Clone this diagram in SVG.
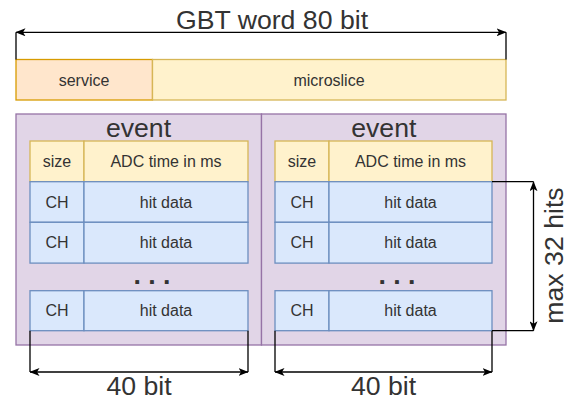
<svg xmlns="http://www.w3.org/2000/svg" width="576" height="400" viewBox="0 0 576 400">
  <style>
    text { font-family: "Liberation Sans", Arial, sans-serif; fill: #333333; }
    .big { font-size: 26.67px; text-anchor: middle; }
    .small { font-size: 16px; text-anchor: middle; }
    .dots { font-size: 26.67px; font-weight: bold; text-anchor: middle; }
    .service { fill: #ffe6cc; stroke: #d79b00; stroke-width: 1.3; }
    .yellow { fill: #fff2cc; stroke: #d6b656; stroke-width: 1.3; }
    .event { fill: #e1d5e7; stroke: #9673a6; stroke-width: 1.3; }
    .hit { fill: #dae8fc; stroke: #6c8ebf; stroke-width: 1.3; }
    .line { fill: none; stroke: #000000; stroke-width: 1.3; }
  </style>
  <defs>
    <marker id="arrow" viewBox="0 0 10 8" refX="9.5" refY="4" markerWidth="10" markerHeight="8" markerUnits="userSpaceOnUse" orient="auto-start-reverse">
      <path d="M0,0 L10,4 L0,8 L2.5,4 Z" fill="#000000"/>
    </marker>
  </defs>

  <!-- GBT word -->
  <g id="gbt-title">
    <text class="big" x="272" y="28.5">GBT word 80 bit</text>
  </g>
  <g id="service">
    <rect class="service" x="16" y="59.5" width="136.5" height="40.5"/>
    <text class="small" x="84" y="85.5">service</text>
  </g>
  <g id="microslice">
    <rect class="yellow" x="152.5" y="59.5" width="353.5" height="40.5"/>
    <text class="small" x="329" y="85.5">microslice</text>
  </g>

  <!-- left event -->
  <g id="event-left">
    <rect class="event" x="16" y="114" width="245.5" height="231"/>
    <text class="big" x="138.5" y="136.7">event</text>
    <rect class="yellow" x="30" y="141" width="54" height="40.7"/>
    <text class="small" x="57" y="167">size</text>
    <rect class="yellow" x="84" y="141" width="164" height="40.7"/>
    <text class="small" x="166" y="167">ADC time in ms</text>
    <rect class="hit" x="30" y="181.7" width="54" height="40.6"/>
    <text class="small" x="57" y="207.5">CH</text>
    <rect class="hit" x="84" y="181.7" width="164" height="40.6"/>
    <text class="small" x="166" y="207.5">hit data</text>
    <rect class="hit" x="30" y="222.3" width="54" height="40.8"/>
    <text class="small" x="57" y="248.2">CH</text>
    <rect class="hit" x="84" y="222.3" width="164" height="40.8"/>
    <text class="small" x="166" y="248.2">hit data</text>
    <text class="dots" x="152" y="283.5">. . .</text>
    <rect class="hit" x="30" y="290.7" width="54" height="40"/>
    <text class="small" x="57" y="316.3">CH</text>
    <rect class="hit" x="84" y="290.7" width="164" height="40"/>
    <text class="small" x="166" y="316.3">hit data</text>
  </g>

  <!-- right event -->
  <g id="event-right">
    <rect class="event" x="261.5" y="114" width="244.5" height="231"/>
    <text class="big" x="383.8" y="136.7">event</text>
    <rect class="yellow" x="275" y="141" width="54" height="40.7"/>
    <text class="small" x="302" y="167">size</text>
    <rect class="yellow" x="329" y="141" width="163" height="40.7"/>
    <text class="small" x="410.5" y="167">ADC time in ms</text>
    <rect class="hit" x="275" y="181.7" width="54" height="40.6"/>
    <text class="small" x="302" y="207.5">CH</text>
    <rect class="hit" x="329" y="181.7" width="163" height="40.6"/>
    <text class="small" x="410.5" y="207.5">hit data</text>
    <rect class="hit" x="275" y="222.3" width="54" height="40.8"/>
    <text class="small" x="302" y="248.2">CH</text>
    <rect class="hit" x="329" y="222.3" width="163" height="40.8"/>
    <text class="small" x="410.5" y="248.2">hit data</text>
    <text class="dots" x="397" y="283.5">. . .</text>
    <rect class="hit" x="275" y="290.7" width="54" height="40"/>
    <text class="small" x="302" y="316.3">CH</text>
    <rect class="hit" x="329" y="290.7" width="163" height="40"/>
    <text class="small" x="410.5" y="316.3">hit data</text>
  </g>

  <!-- dimension connectors -->
  <g id="connectors">
    <path class="line" d="M16,59.5 V32.3 M506,59.5 V32.3"/>
    <path class="line" d="M16,32.3 H506" marker-start="url(#arrow)" marker-end="url(#arrow)"/>

    <path class="line" d="M492,181.7 H533.5 M492,330.7 H533.5"/>
    <path class="line" d="M533.5,181.7 V330.7" marker-start="url(#arrow)" marker-end="url(#arrow)"/>

    <path class="line" d="M30,330.7 V372 M248,330.7 V372"/>
    <path class="line" d="M30,372 H248" marker-start="url(#arrow)" marker-end="url(#arrow)"/>

    <path class="line" d="M275,330.7 V372 M492,330.7 V372"/>
    <path class="line" d="M275,372 H492" marker-start="url(#arrow)" marker-end="url(#arrow)"/>
  </g>

  <!-- dimension labels -->
  <g id="label-max-hits">
    <text class="big" transform="translate(563,255.5) rotate(-90)">max 32 hits</text>
  </g>
  <g id="label-40bit-left">
    <text class="big" x="139" y="395">40 bit</text>
  </g>
  <g id="label-40bit-right">
    <text class="big" x="383.5" y="395">40 bit</text>
  </g>
</svg>
